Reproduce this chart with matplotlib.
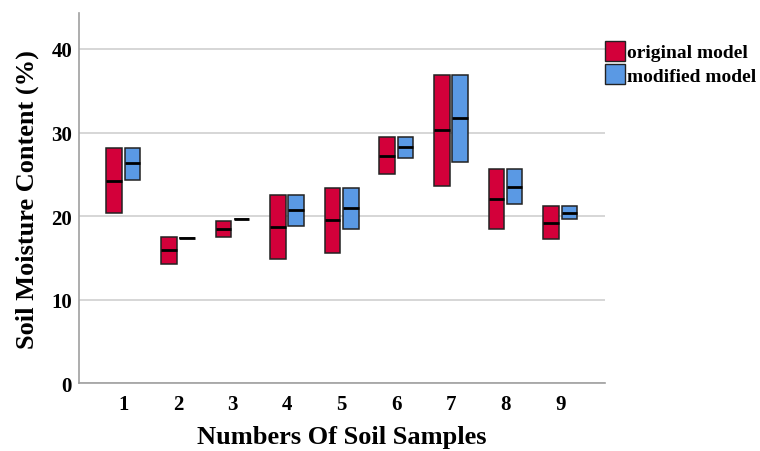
import numpy as np
import matplotlib.pyplot as plt
from matplotlib.patches import Patch

samples = ['1', '2', '3', '4', '5', '6', '7', '8', '9']

# box bottom / median / top
orig_low = [20.4, 14.3, 17.55, 14.85, 15.6, 25.0, 23.6, 18.4, 17.3]
orig_med = [24.2, 15.95, 18.5, 18.7, 19.5, 27.2, 30.3, 22.0, 19.2]
orig_high = [28.1, 17.55, 19.4, 22.55, 23.3, 29.45, 36.9, 25.6, 21.15]

mod_low = [24.3, 17.4, 19.6, 18.8, 18.5, 27.0, 26.5, 21.4, 19.7]
mod_med = [26.3, 17.4, 19.6, 20.7, 20.95, 28.3, 31.7, 23.5, 20.4]
mod_high = [28.1, 17.4, 19.6, 22.55, 23.3, 29.45, 36.9, 25.6, 21.15]

red = '#D3003A'
blue = '#5A99E4'

plt.rcParams['font.family'] = ['Liberation Serif', 'DejaVu Serif']
plt.rcParams['font.weight'] = 'bold'

fig = plt.figure(figsize=(7.6, 4.52), dpi=100)
ax = fig.add_axes([0.104, 0.150, 0.692, 0.819])

def make_stats(low, med, high):
    st = []
    for lo, m, hi in zip(low, med, high):
        st.append(dict(q1=lo, med=m, q3=hi, whislo=lo, whishi=hi, fliers=[]))
    return st

x = np.arange(1, len(samples) + 1)
off = 0.167
w = 0.285
for low, med, high, col, d in [(orig_low, orig_med, orig_high, red, -off),
                               (mod_low, mod_med, mod_high, blue, off)]:
    ax.bxp(make_stats(low, med, high), positions=x + d, widths=w,
           patch_artist=True, showcaps=False, manage_ticks=False,
           boxprops=dict(facecolor=col, edgecolor='#222222', linewidth=1.1),
           medianprops=dict(color='black', linewidth=2),
           whiskerprops=dict(linewidth=0))

ax.set_xlim(0.19, 9.82)
ax.set_ylim(0, 44.3)
ax.set_xticks(x)
ax.set_xticklabels(samples)
ax.set_yticks([0, 10, 20, 30, 40])
ax.tick_params(length=0, labelsize=15)
ax.tick_params(axis='x', pad=8)
ax.tick_params(axis='y', pad=5)
ax.yaxis.grid(True, color='#d0d0d0', linewidth=1.2)
ax.set_axisbelow(True)
for s in ['top', 'right']:
    ax.spines[s].set_visible(False)
for s in ['left', 'bottom']:
    ax.spines[s].set_color('#a0a0a0')
    ax.spines[s].set_linewidth(1.2)

ax.set_xlabel('Numbers Of Soil Samples', fontsize=19, fontweight='bold', labelpad=8)
ax.set_ylabel('Soil Moisture Content (%)', fontsize=19, fontweight='bold', labelpad=9)

handles = [Patch(facecolor=red, edgecolor='#222222', label='original model'),
           Patch(facecolor=blue, edgecolor='#222222', label='modified model')]
ax.legend(handles=handles, loc='upper left', bbox_to_anchor=(1.001, 0.925),
          frameon=False, fontsize=14, handlelength=1.0, handleheight=1.2,
          handletextpad=0.1, labelspacing=0.15, borderaxespad=0, borderpad=0)

plt.savefig('out.png', dpi=100)
